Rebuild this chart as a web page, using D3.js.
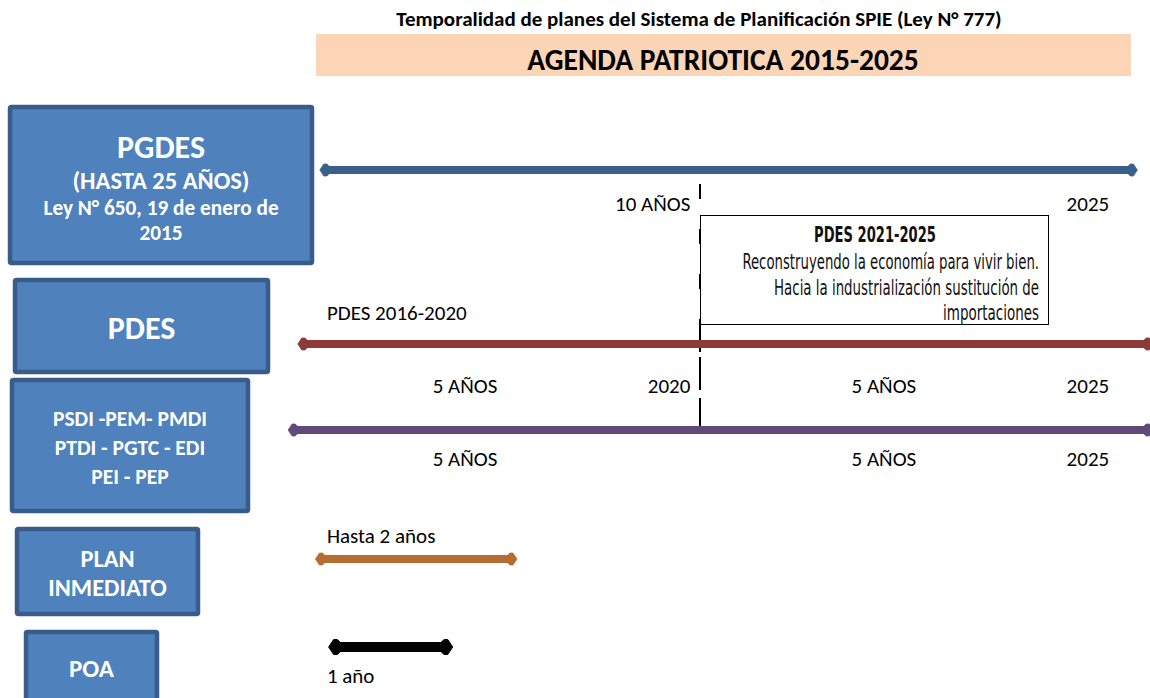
<!DOCTYPE html>
<html>
<head>
<meta charset="utf-8">
<script src="https://cdn.jsdelivr.net/npm/d3@7"></script>
<style>
  body { margin: 0; background: #fff; }
  svg { display: block; }
  text { font-family: Carlito, Calibri, Lato, "Open Sans", sans-serif; }
  .cond { font-family: "DejaVu Sans Condensed", "Liberation Sans Narrow", sans-serif; }
</style>
</head>
<body>
<svg id="chart" width="1150" height="698"></svg>
<script>
//chart data: plan names, time spans (in years) and the labels along each span
var heading = "Temporalidad de planes del Sistema de Planificación SPIE (Ley N° 777)",
    banner = "AGENDA PATRIOTICA 2015-2025";

var plans = ["PGDES", "PDES", "PSDI", "PLAN INMEDIATO", "POA"];
var planLines = [
    ["PGDES", "(HASTA 25 AÑOS)", "Ley N° 650, 19 de enero de", "2015"],
    ["PDES"],
    ["PSDI -PEM- PMDI", "PTDI - PGTC - EDI", "PEI - PEP"],
    ["PLAN", "INMEDIATO"],
    ["POA"]
];
var spanStart = [2015.68, 2015.43, 2015.32, 2015.63, 2015.78];
var spanEnd = [2024.97, 2025.15, 2025.15, 2017.92, 2017.19];

var cutYear = 2020; //dashed marker between PDES 2016-2020 and PDES 2021-2025

//labels: text, row index, year where it is anchored, anchor side, above/below
var labelText = ["10 AÑOS", "2025", "PDES 2016-2020", "5 AÑOS", "2020", "5 AÑOS", "2025",
    "5 AÑOS", "5 AÑOS", "2025", "Hasta 2 años", "1 año"];
var labelRow = [0, 0, 1, 1, 1, 1, 1, 2, 2, 2, 3, 4];
var labelYear = [2019.89, 2024.65, 2015.76, 2017.33, 2019.89, 2022.09, 2024.65,
    2017.33, 2022.09, 2024.65, 2015.76, 2015.76];
var labelAnchor = ["end", "end", "start", "middle", "end", "middle", "end",
    "middle", "middle", "end", "start", "start"];
var labelSide = ["below", "below", "above", "below", "below", "below", "below",
    "below", "below", "below", "above", "below"];

var noteTitle = "PDES 2021-2025",
    noteLines = ["Reconstruyendo la economía para vivir bien.",
        "Hacia la industrialización sustitución de", "importaciones"];

//layout
var svg = d3.select("#chart"),
    width = +svg.attr("width"),
    height = +svg.attr("height");

var x = d3.scaleLinear().domain([2015, 2025]).range([260, 1140]);

var boxes = [ //left boxes x0, y0, x1, y1
    [8, 105, 314, 265],
    [13, 278, 270, 374],
    [10, 378, 250, 513],
    [15, 527, 200, 616],
    [24, 630, 159, 712]
];
var lineSizes = [[32, 24.5, 21.3, 21.3], [32], [21.5, 21.5, 21.5], [24.4, 24.4], [25]];
var lineY = [[146, 180, 207, 232], [327], [418, 447, 476], [558, 587], [668]];
var arrowY = [170, 344, 430, 559, 647];
var arrowColor = ["#3b5f8b", "#8e3a39", "#5f4a7a", "#b66d31", "#000000"];
var arrowWidth = [8, 8, 8, 8, 10];
var headScale = [1, 1, 1, 1, 1.25];
var aboveOffset = [-24.5, -24.5, -24.5, -16.5, -24.5];
var belowOffset = [40.5, 48.5, 35.5, 35.5, 35.5];

//heading
svg.append("text")
    .attr("x", 699).attr("y", 25.5)
    .attr("text-anchor", "middle")
    .attr("font-size", 21).attr("font-weight", "bold")
    .text(heading);

svg.append("rect")
    .attr("x", 316).attr("y", 34).attr("width", 815).attr("height", 42)
    .attr("fill", "#fbd5b5");

svg.append("text")
    .attr("x", 723).attr("y", 69.5)
    .attr("text-anchor", "middle")
    .attr("font-size", 29.5).attr("font-weight", "bold")
    .text(banner);

//arrow heads (small pointed diamond ends)
var defs = svg.append("defs");
arrowColor.forEach(function (c, i) {
    var s = headScale[i];
    defs.append("marker")
        .attr("id", "head" + i)
        .attr("viewBox", "-3 -7 11 14")
        .attr("refX", 0).attr("refY", 0)
        .attr("markerUnits", "userSpaceOnUse")
        .attr("markerWidth", 11 * s).attr("markerHeight", 14 * s)
        .attr("orient", "auto-start-reverse")
        .append("path")
        .attr("d", "M-2,-4L0,-6L3,-6L7,0L3,6L0,6L-2,4Z")
        .attr("stroke", c).attr("stroke-width", 0.8).attr("stroke-linejoin", "round")
        .attr("fill", c);
});

//left boxes
var box = svg.append("g").attr("class", "boxes").selectAll("g")
    .data(plans)
    .enter().append("g");

box.append("rect")
    .attr("x", function (d, i) { return boxes[i][0] + 2; })
    .attr("y", function (d, i) { return boxes[i][1] + 2; })
    .attr("width", function (d, i) { return boxes[i][2] - boxes[i][0] - 4; })
    .attr("height", function (d, i) { return boxes[i][3] - boxes[i][1] - 4; })
    .attr("rx", 1.5)
    .attr("fill", "#4f81bd")
    .attr("stroke", "#385d8a")
    .attr("stroke-width", 4.5);

box.each(function (d, i) {
    var cx = (boxes[i][0] + boxes[i][2]) / 2;
    d3.select(this).selectAll("text")
        .data(planLines[i])
        .enter().append("text")
        .attr("x", cx)
        .attr("y", function (t, j) { return lineY[i][j] + lineSizes[i][j] * 0.36; })
        .attr("text-anchor", "middle")
        .attr("fill", "#fff")
        .attr("font-weight", "bold")
        .attr("font-size", function (t, j) { return lineSizes[i][j]; })
        .text(function (t) { return t; });
});

//dashed marker for 2020
svg.append("line")
    .attr("x1", x(cutYear)).attr("x2", x(cutYear))
    .attr("y1", 184).attr("y2", 430)
    .attr("stroke", "#000").attr("stroke-width", 2)
    .attr("stroke-dasharray", "15,30");
svg.append("line")
    .attr("x1", x(cutYear)).attr("x2", x(cutYear))
    .attr("y1", 326).attr("y2", 430)
    .attr("stroke", "#000").attr("stroke-width", 2)
    .attr("stroke-dasharray", "26,5,33,8,32");

//time spans
svg.append("g").attr("class", "spans").selectAll("line")
    .data(plans)
    .enter().append("line")
    .attr("x1", function (d, i) { return x(spanStart[i]) + 7 * headScale[i]; })
    .attr("x2", function (d, i) { return x(spanEnd[i]) - 7 * headScale[i]; })
    .attr("y1", function (d, i) { return arrowY[i]; })
    .attr("y2", function (d, i) { return arrowY[i]; })
    .attr("stroke", function (d, i) { return arrowColor[i]; })
    .attr("stroke-width", function (d, i) { return arrowWidth[i]; })
    .attr("marker-start", function (d, i) { return "url(#head" + i + ")"; })
    .attr("marker-end", function (d, i) { return "url(#head" + i + ")"; });

//labels along the spans
svg.append("g").attr("class", "labels").selectAll("text")
    .data(labelText)
    .enter().append("text")
    .attr("x", function (d, i) { return x(labelYear[i]); })
    .attr("y", function (d, i) {
        var r = labelRow[i];
        return arrowY[r] + (labelSide[i] === "above" ? aboveOffset[r] : belowOffset[r]);
    })
    .attr("text-anchor", function (d, i) { return labelAnchor[i]; })
    .attr("font-size", 21)
    .attr("fill", "#000")
    .text(function (d) { return d; });

//note box for PDES 2021-2025
var note = svg.append("g").attr("class", "note");
note.append("rect")
    .attr("x", x(cutYear) + 0.5).attr("y", 215.5)
    .attr("width", 348).attr("height", 109)
    .attr("fill", "#fff").attr("stroke", "#000").attr("stroke-width", 1);

//squeeze a text horizontally so that it fits a given width (narrow display face)
function squeeze(sel, w, ax, ay, anchor) {
    sel.attr("x", 0).attr("y", 0).attr("text-anchor", anchor);
    var natural = sel.node().getComputedTextLength();
    sel.attr("transform", "translate(" + ax + "," + ay + ") scale(" + (w / natural) + ",1)");
}

note.append("text")
    .attr("class", "cond")
    .attr("font-size", 21).attr("font-weight", "bold")
    .attr("fill", "#111")
    .text(noteTitle)
    .call(squeeze, 122, 875, 242, "middle");

var noteWidths = [297, 265, 96];
noteLines.forEach(function (t, i) {
    note.append("text")
        .attr("class", "cond")
        .attr("font-size", 21)
        .attr("fill", "#111")
        .text(t)
        .call(squeeze, noteWidths[i], 1039, 269 + i * 25.7, "end");
});
</script>
</body>
</html>
